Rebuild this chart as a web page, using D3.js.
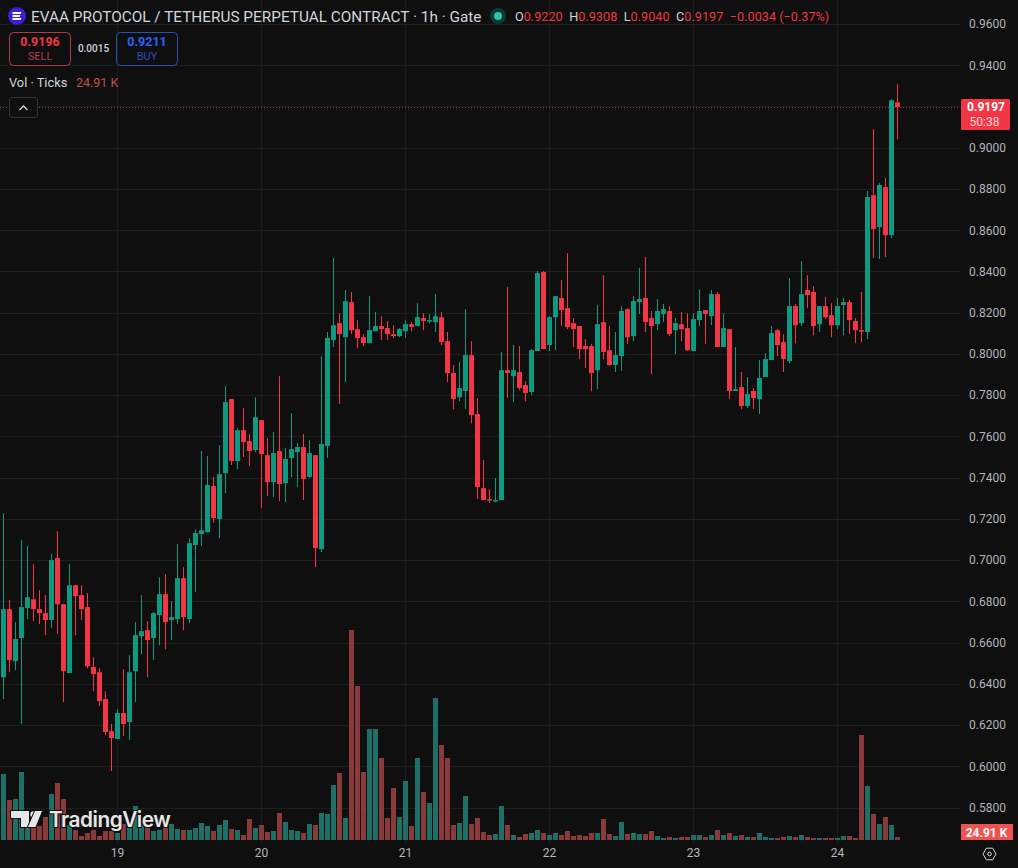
<!DOCTYPE html>
<html>
<head>
<meta charset="utf-8">
<title>EVAA/USDT perpetual, 1h</title>
<script src="https://cdnjs.cloudflare.com/ajax/libs/d3/7.8.5/d3.min.js"></script>
<style>
  html, body { margin: 0; padding: 0; background: #0f0f0f; overflow: hidden; }
  svg { display: block; font-family: Roboto, "Liberation Sans", sans-serif; }
</style>
</head>
<body>
<svg id="chart" width="1018" height="868"></svg>
<script>
// Hourly candles, oldest first. The first bar is 18th 05:00.
const opens = [
  .6432,.6762,.6510,.6622,.6767,.6810,.6762,.6743,.6709,.7010,
  .6786,.6452,.6878,.6830,.6772,.6481,.6456,.6326,.6170,.6132,
  .6258,.6214,.6461,.6631,.6660,.6622,.6733,.6835,.6709,.6714,
  .6912,.6714,.7073,.7126,.7135,.7359,.7199,.7422,.7781,.7480,
  .7630,.7577,.7534,.7679,.7509,.7378,.7529,.7373,.7495,.7524,
  .7548,.7403,.7509,.7053,.7553,.8067,.8149,.8081,.8251,.8120,
  .8081,.8052,.8110,.8135,.8125,.8096,.8086,.8110,.8144,.8135,
  .8174,.8159,.8154,.8178,.8062,.7907,.7790,.7820,.7994,.7708,
  .7349,.7296,.7286,.7291,.7921,.7892,.7912,.7849,.7815,.8014,
  .8397,.8043,.8178,.8271,.8222,.8149,.8135,.8038,.8038,.7921,
  .8154,.8018,.7946,.7989,.8217,.8086,.8251,.8271,.8174,.8144,
  .8193,.8208,.8115,.8144,.8125,.8014,.8164,.8212,.8183,.8290,
  .8033,.8120,.7820,.7839,.7747,.7820,.7781,.7888,.7970,.8115,
  .8057,.7965,.8232,.8149,.8310,.8300,.8144,.8232,.8188,.8139,
  .8237,.8251,.8159,.8115,.8106,.8770,.8615,.8809,.8576,.9220
];
const highs = [
  .7227,.6806,.6699,.7097,.7068,.6981,.6854,.6830,.7029,.7140,
  .6786,.6981,.6878,.6878,.6840,.6529,.6476,.6364,.6205,.6277,
  .6471,.6539,.6699,.6830,.6704,.6748,.6917,.6932,.6801,.7077,
  .6966,.7106,.7150,.7529,.7504,.7403,.7558,.7844,.7781,.7640,
  .7737,.7611,.7790,.7679,.7592,.7621,.7892,.7543,.7713,.7567,
  .7611,.7582,.7509,.7989,.8106,.8465,.8198,.8310,.8300,.8164,
  .8096,.8280,.8203,.8183,.8159,.8139,.8125,.8164,.8154,.8246,
  .8198,.8193,.8290,.8203,.8106,.7946,.7960,.8217,.8062,.7786,
  .7485,.7344,.7398,.8009,.8324,.8043,.8038,.7868,.8023,.8402,
  .8402,.8183,.8280,.8358,.8489,.8174,.8135,.8072,.8048,.8237,
  .8382,.8135,.8106,.8232,.8222,.8280,.8417,.8470,.8208,.8266,
  .8242,.8232,.8174,.8203,.8198,.8198,.8314,.8212,.8310,.8300,
  .8198,.8120,.8033,.7912,.7888,.7834,.7970,.8004,.8135,.8120,
  .8096,.8368,.8242,.8450,.8382,.8329,.8232,.8276,.8246,.8271,
  .8271,.8261,.8174,.8300,.8790,.9090,.8828,.8853,.9236,.9308
];
const lows = [
  .6326,.6456,.6466,.6205,.6714,.6704,.6690,.6636,.6670,.6641,
  .6311,.6452,.6636,.6709,.6476,.6364,.6292,.6151,.5977,.6132,
  .6146,.6127,.6311,.6544,.6432,.6515,.6587,.6568,.6612,.6690,
  .6660,.6694,.6845,.7068,.7135,.7180,.7106,.7325,.7461,.7441,
  .7500,.7456,.7524,.7252,.7310,.7306,.7286,.7281,.7403,.7354,
  .7291,.7398,.6966,.7039,.7495,.8033,.7757,.7863,.8096,.8028,
  .8038,.8052,.8110,.8067,.8067,.8077,.8081,.8077,.8110,.8135,
  .8115,.8149,.8106,.8043,.7863,.7732,.7771,.7732,.7664,.7296,
  .7291,.7277,.7281,.7291,.7786,.7766,.7824,.7771,.7800,.8014,
  .8023,.8014,.8018,.8135,.8120,.8033,.7975,.7931,.7819,.7829,
  .7975,.7941,.7912,.7917,.8048,.8062,.8193,.8106,.7902,.8115,
  .8154,.8086,.7999,.8062,.8014,.8014,.8135,.8048,.8140,.8033,
  .8033,.7781,.7820,.7732,.7737,.7732,.7708,.7888,.7970,.7989,
  .7912,.7955,.8052,.8135,.8222,.8091,.8106,.8169,.8081,.8120,
  .8091,.8096,.8052,.8057,.8072,.8465,.8460,.8470,.8562,.9040
];
const closes = [
  .6762,.6515,.6617,.6772,.6820,.6762,.6743,.6709,.7000,.6786,
  .6461,.6878,.6825,.6762,.6485,.6447,.6316,.6166,.6137,.6258,
  .6205,.6456,.6636,.6655,.6612,.6743,.6835,.6699,.6723,.6912,
  .6723,.7082,.7131,.7145,.7364,.7204,.7417,.7766,.7480,.7630,
  .7572,.7529,.7693,.7514,.7378,.7519,.7369,.7490,.7538,.7548,
  .7393,.7519,.7058,.7563,.8077,.8139,.8096,.8256,.8115,.8077,
  .8052,.8115,.8135,.8120,.8096,.8086,.8120,.8144,.8130,.8178,
  .8159,.8164,.8183,.8057,.7907,.7781,.7834,.7994,.7703,.7354,
  .7291,.7291,.7291,.7921,.7907,.7921,.7834,.7810,.8018,.8392,
  .8023,.8178,.8280,.8212,.8130,.8120,.8023,.8023,.7907,.8144,
  .8009,.7946,.7994,.8208,.8081,.8256,.8266,.8154,.8135,.8208,
  .8217,.8096,.8149,.8120,.8018,.8169,.8208,.8193,.8290,.8033,
  .8125,.7820,.7829,.7747,.7805,.7786,.7883,.7975,.8101,.8043,
  .7975,.8232,.8139,.8290,.8285,.8135,.8232,.8178,.8139,.8232,
  .8251,.8164,.8115,.8110,.8761,.8605,.8819,.8576,.9230,.9197
];
// Tick volume per bar, in thousands.
const volumes = [
  548,332,340,564,149,116,116,191,382,473,
  340,124,83,33,58,83,33,75,75,58,
  133,124,282,124,116,75,83,100,133,91,
  83,83,100,141,116,75,124,166,91,83,
  41,174,100,124,66,75,224,149,83,75,
  58,133,124,224,216,456,556,183,1743,1278,
  564,921,921,681,183,432,191,490,116,681,
  398,307,1179,789,681,124,141,365,133,183,
  66,41,50,282,124,41,25,50,58,83,
  58,41,58,41,75,33,41,33,58,58,
  174,50,33,149,50,58,50,50,75,33,
  17,25,17,25,25,41,41,25,41,83,
  41,58,33,41,25,25,58,25,17,17,
  25,33,25,41,25,17,17,17,17,17,
  33,33,17,872,448,216,133,191,124,24.91
];
const dayBars = [19, 43, 67, 91, 115, 139];
const dayLabels = ["19", "20", "21", "22", "23", "24"];
const priceTicks = d3.range(0.58, 0.9601, 0.02);
const quoteFields = [["O", "0.9220"], ["H", "0.9308"], ["L", "0.9040"], ["C", "0.9197"]];
const quoteChange = "\u22120.0034 (\u22120.37%)";

const UP = "#0e9a80", DOWN = "#f23645";
const VOL_UP = "#1e6f66", VOL_DOWN = "#8b3a3c";
const GRID = "#1d1d1d", AXIS_TEXT = "#b2b5be", HEAD_TEXT = "#d1d4dc";

const svg = d3.select("#chart");
const plotRight = 960, plotBottom = 843;

const x = d3.scaleLinear().domain([0, 149]).range([3.5, 897.5]);
const y = d3.scaleLinear().domain([0.58, 0.96]).range([807.5, 24]);
const yVol = d3.scaleLinear().domain([0, 1743]).range([840, 630]);

svg.append("rect").attr("width", 1018).attr("height", 868).attr("fill", "#0f0f0f");

// Grid
const grid = svg.append("g").attr("shape-rendering", "crispEdges").attr("stroke", GRID);
grid.selectAll("line.h").data(priceTicks).join("line").attr("class", "h")
  .attr("x1", 0).attr("x2", plotRight)
  .attr("y1", d => Math.round(y(d)) + .5).attr("y2", d => Math.round(y(d)) + .5);
grid.selectAll("line.v").data(dayBars).join("line").attr("class", "v")
  .attr("y1", 0).attr("y2", plotBottom)
  .attr("x1", d => Math.floor(x(d)) + .5).attr("x2", d => Math.floor(x(d)) + .5);

const bars = d3.range(opens.length).map(i => ({
  i, o: opens[i], h: highs[i], l: lows[i], c: closes[i], v: volumes[i], up: closes[i] >= opens[i]
}));

// Volume pane
svg.append("g").attr("shape-rendering", "crispEdges").selectAll("rect").data(bars).join("rect")
  .attr("x", d => x(d.i) - 2.5).attr("width", 5)
  .attr("y", d => yVol(d.v)).attr("height", d => 840 - yVol(d.v))
  .attr("fill", d => d.up ? VOL_UP : VOL_DOWN);

// Last-price line
svg.append("line").attr("x1", 0).attr("x2", plotRight)
  .attr("y1", Math.round(y(closes[149])) + .5).attr("y2", Math.round(y(closes[149])) + .5)
  .attr("stroke", "#a8353f").attr("stroke-dasharray", "1 2").attr("stroke-width", 1);

// Candles
const candles = svg.append("g");
candles.selectAll("line").data(bars).join("line")
  .attr("x1", d => x(d.i)).attr("x2", d => x(d.i))
  .attr("y1", d => y(d.h)).attr("y2", d => y(d.l))
  .attr("stroke", d => d.up ? UP : DOWN).attr("stroke-width", 1);
candles.selectAll("rect").data(bars).join("rect")
  .attr("x", d => x(d.i) - 2.5).attr("width", 5)
  .attr("y", d => y(Math.max(d.o, d.c)))
  .attr("height", d => Math.max(1.5, Math.abs(y(d.o) - y(d.c))))
  .attr("fill", d => d.up ? UP : DOWN);

// Price axis
const yAxis = d3.axisRight(y).tickValues(priceTicks).tickFormat(d3.format(".4f")).tickSize(0).tickPadding(0);
const yG = svg.append("g").attr("transform", "translate(969,0)").call(yAxis);
yG.select(".domain").remove();
yG.selectAll("text").attr("fill", AXIS_TEXT).attr("font-size", 12).attr("font-family", "Roboto, sans-serif");

// Time axis
const tAxis = d3.axisBottom(x).tickValues(dayBars)
  .tickFormat((d, i) => dayLabels[i]).tickSize(0).tickPadding(0);
const tG = svg.append("g").attr("transform", "translate(-0.5,848)").call(tAxis);
tG.select(".domain").remove();
tG.selectAll("text").attr("fill", AXIS_TEXT).attr("font-size", 12).attr("font-family", "Roboto, sans-serif");

// Last-price and volume badges on the axis
svg.append("rect").attr("x", 961).attr("y", 99).attr("width", 49).attr("height", 31).attr("rx", 1.5).attr("fill", DOWN);
svg.append("text").attr("x", 986).attr("y", 111).attr("text-anchor", "middle")
  .attr("font-size", 12).attr("font-weight", 700).attr("fill", "#ffffff").text(d3.format(".4f")(closes[149]));
svg.append("text").attr("x", 984.5).attr("y", 125.5).attr("text-anchor", "middle")
  .attr("font-size", 12).attr("fill", "#ffd7da").text("50:38");
svg.append("rect").attr("x", 961).attr("y", 824).attr("width", 52).attr("height", 16).attr("fill", "#ef5350");
svg.append("text").attr("x", 986.5).attr("y", 836.5).attr("text-anchor", "middle")
  .attr("font-size", 12).attr("font-weight", 700).attr("fill", "#ffffff").text("24.91 K");

// Settings glyph
const gear = svg.append("g").attr("transform", "translate(989.5,854)").attr("fill", "none").attr("stroke", "#d1d4dc").attr("stroke-width", 1);
gear.append("path").attr("d", "M-6.5,0 L-3.2,-5.8 L3.2,-5.8 L6.5,0 L3.2,5.8 L-3.2,5.8 Z");
gear.append("circle").attr("r", 1.8);

// Legend: instrument title and OHLC
const coin = svg.append("g").attr("transform", "translate(17,16)");
coin.append("circle").attr("r", 9).attr("fill", "#3c1fd6");
coin.append("path").attr("d", "M-4.5,-4 H4.5 L3.5,-2 H-4.5 Z M-4.5,-1 H3.5 L2.5,1 H-4.5 Z M-4.5,2 H4.5 L3.5,4 H-4.5 Z").attr("fill", "#ffffff");
svg.append("text").attr("x", 31).attr("y", 21.5).attr("font-size", 15.35).attr("fill", HEAD_TEXT)
  .text("EVAA PROTOCOL / TETHERUS PERPETUAL CONTRACT \u00b7 1h \u00b7 Gate");
svg.append("circle").attr("cx", 498).attr("cy", 16).attr("r", 8).attr("fill", "#0e3a33");
svg.append("circle").attr("cx", 498).attr("cy", 16).attr("r", 4).attr("fill", "#2fc4a0");

const quote = svg.append("text").attr("x", 515).attr("y", 21).attr("font-size", 12.7);
quoteFields.forEach(([k, v]) => {
  quote.append("tspan").attr("fill", HEAD_TEXT).text(k);
  quote.append("tspan").attr("fill", DOWN).text(v + "\u2002");
});
quote.append("tspan").attr("fill", DOWN).text(quoteChange);

// Sell and buy buttons
function button(left, colour, dim, price, label) {
  svg.append("rect").attr("x", left + .5).attr("y", 32.5).attr("width", 61).attr("height", 33).attr("rx", 4)
    .attr("fill", "none").attr("stroke", dim);
  svg.append("text").attr("x", left + 31).attr("y", 46).attr("text-anchor", "middle")
    .attr("font-size", 12.5).attr("font-weight", 700).attr("fill", colour).text(price);
  svg.append("text").attr("x", left + 31).attr("y", 60).attr("text-anchor", "middle")
    .attr("font-size", 11).attr("fill", dim).text(label);
}
button(9, "#f23645", "#b03a48", "0.9196", "SELL");
button(116, "#2962ff", "#2a50b5", "0.9211", "BUY");
svg.append("text").attr("x", 93.5).attr("y", 52).attr("text-anchor", "middle")
  .attr("font-size", 10).attr("font-weight", 500).attr("fill", HEAD_TEXT).text("0.0015");

// Volume legend and collapse control
svg.append("text").attr("x", 9).attr("y", 87).attr("font-size", 12.8).attr("fill", HEAD_TEXT).text("Vol \u00b7 Ticks");
svg.append("text").attr("x", 76).attr("y", 87).attr("font-size", 12.5).attr("fill", "#c05050").text("24.91 K");
svg.append("rect").attr("x", 9.5).attr("y", 97.5).attr("width", 28).attr("height", 20).attr("rx", 2.5)
  .attr("fill", "#0f0f0f").attr("stroke", "#333333");
svg.append("path").attr("d", "M19.5,110 L23.5,106 L27.5,110").attr("fill", "none").attr("stroke", "#d1d4dc").attr("stroke-width", 1.3);

// Watermark
const mark = svg.append("g").attr("fill", "#e6e6e6").attr("stroke", "#111111").attr("stroke-width", 2).attr("paint-order", "stroke");
mark.append("path").attr("d", "M11,811 H29 V827 H21 V818 H11 Z");
mark.append("circle").attr("cx", 33.5).attr("cy", 814.5).attr("r", 3.2);
mark.append("path").attr("d", "M35,811 H42 L35.5,827 H28 Z");
mark.append("text").attr("x", 49).attr("y", 827).attr("font-family", "Inter, Roboto, sans-serif")
  .attr("font-size", 20.8).attr("font-weight", 600).attr("letter-spacing", "-0.5").text("TradingView");
</script>
</body>
</html>
